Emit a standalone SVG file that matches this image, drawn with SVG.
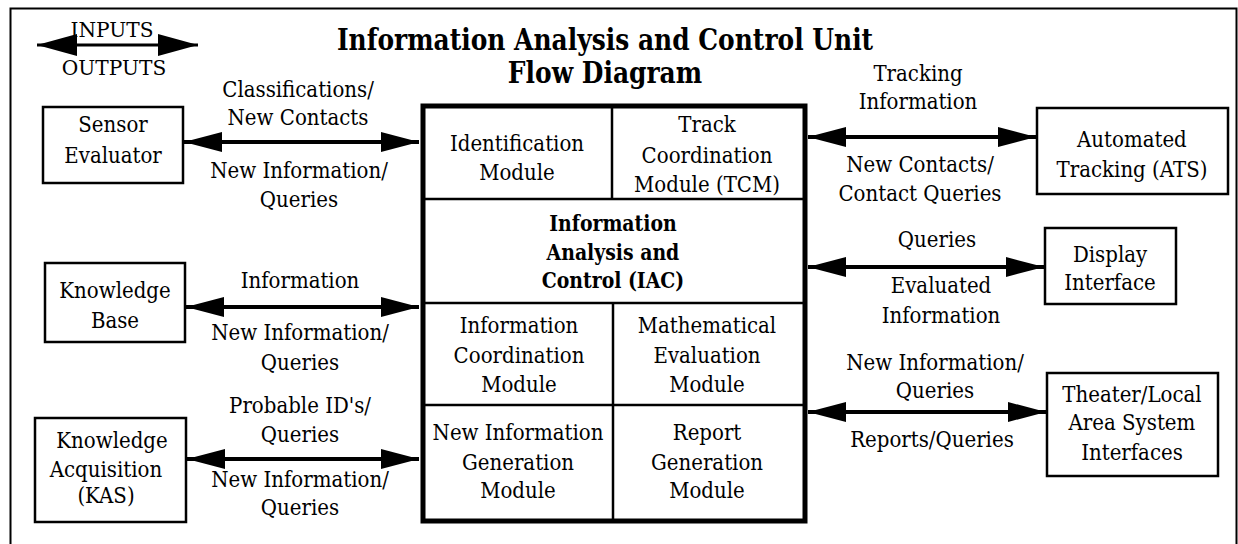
<svg xmlns="http://www.w3.org/2000/svg" width="1238" height="544" viewBox="0 0 1238 544">
<style>
text{font-family:"DejaVu Serif","Liberation Serif",serif;fill:#000;text-anchor:middle;transform-box:fill-box;transform-origin:center;transform:scaleX(0.86)}
.b{font-size:23px}
.bb{font-size:23px;font-weight:bold;transform:scaleX(0.82)}
.t{font-size:29px;font-weight:bold;transform:scaleX(0.86)}
.lg{font-size:21px;transform:scaleX(0.96)}
.box{fill:#fff;stroke:#000;stroke-width:2.5}
.div{stroke:#000;stroke-width:2.5;fill:none}
.arr{stroke:#000;stroke-width:4;fill:none;marker-start:url(#ah);marker-end:url(#ah)}
</style>
<defs>
<marker id="ah" viewBox="0 0 38 20" refX="38" refY="10" markerWidth="38" markerHeight="20" markerUnits="userSpaceOnUse" orient="auto-start-reverse">
<path d="M0,0 L38,10 L0,20 Z" fill="#000"/>
</marker>
<marker id="ahl" viewBox="0 0 40 22" refX="40" refY="11" markerWidth="40" markerHeight="22" markerUnits="userSpaceOnUse" orient="auto-start-reverse">
<path d="M0,0 L40,11 L0,22 Z" fill="#000"/>
</marker>
</defs>
<rect width="1238" height="544" fill="#fff"/>
<path d="M10.5,544 V8.5 H1236.5 V544" fill="none" stroke="#000" stroke-width="2"/>

<g id="legend">
<line x1="37" y1="45" x2="198" y2="45" stroke="#000" stroke-width="3" marker-start="url(#ahl)" marker-end="url(#ahl)"/>
<text class="lg" x="112" y="37">INPUTS</text>
<text class="lg" x="114" y="75">OUTPUTS</text>
</g>

<g id="title">
<text class="t" x="605" y="50">Information Analysis and Control Unit</text>
<text class="t" x="605" y="83">Flow Diagram</text>
</g>

<g id="connectors">
<line class="arr" x1="184" y1="142" x2="419" y2="142"/>
<line class="arr" x1="186" y1="307" x2="419" y2="307"/>
<line class="arr" x1="187" y1="459" x2="419" y2="459"/>
<line class="arr" x1="808" y1="137" x2="1036" y2="137"/>
<line class="arr" x1="808" y1="267" x2="1044" y2="267"/>
<line class="arr" x1="808" y1="412" x2="1046" y2="412"/>
<text class="b" x="298" y="97">Classifications/</text>
<text class="b" x="298" y="125">New Contacts</text>
<text class="b" x="299" y="178">New Information/</text>
<text class="b" x="299" y="207">Queries</text>
<text class="b" x="300" y="288">Information</text>
<text class="b" x="300" y="340">New Information/</text>
<text class="b" x="300" y="370">Queries</text>
<text class="b" x="300" y="413">Probable ID's/</text>
<text class="b" x="300" y="442">Queries</text>
<text class="b" x="300" y="487">New Information/</text>
<text class="b" x="300" y="515">Queries</text>
<text class="b" x="918" y="81">Tracking</text>
<text class="b" x="918" y="109">Information</text>
<text class="b" x="920" y="172">New Contacts/</text>
<text class="b" x="920" y="201">Contact Queries</text>
<text class="b" x="937" y="247">Queries</text>
<text class="b" x="941" y="293">Evaluated</text>
<text class="b" x="941" y="323">Information</text>
<text class="b" x="935" y="370">New Information/</text>
<text class="b" x="935" y="398">Queries</text>
<text class="b" x="932" y="447">Reports/Queries</text>
</g>

<g id="sensor-evaluator">
<rect class="box" x="43" y="107" width="140" height="76"/>
<text class="b" x="113" y="132">Sensor</text>
<text class="b" x="113" y="163">Evaluator</text>
</g>

<g id="knowledge-base">
<rect class="box" x="45" y="263" width="140" height="79"/>
<text class="b" x="115" y="298">Knowledge</text>
<text class="b" x="115" y="328">Base</text>
</g>

<g id="knowledge-acquisition">
<rect class="box" x="35" y="418" width="151" height="104"/>
<text class="b" x="112" y="448">Knowledge</text>
<text class="b" x="106" y="477">Acquisition</text>
<text class="b" x="106" y="503">(KAS)</text>
</g>

<g id="automated-tracking">
<rect class="box" x="1037" y="108" width="191" height="86"/>
<text class="b" x="1132" y="147">Automated</text>
<text class="b" x="1132" y="177">Tracking (ATS)</text>
</g>

<g id="display-interface">
<rect class="box" x="1045" y="228" width="131" height="76"/>
<text class="b" x="1110" y="262">Display</text>
<text class="b" x="1110" y="290">Interface</text>
</g>

<g id="theater-local">
<rect class="box" x="1047" y="373" width="171" height="103"/>
<text class="b" x="1132" y="402">Theater/Local</text>
<text class="b" x="1132" y="430">Area System</text>
<text class="b" x="1132" y="460">Interfaces</text>
</g>

<g id="iac-unit">
<rect x="423" y="106" width="382" height="415" fill="#fff" stroke="#000" stroke-width="5"/>
<line class="div" x1="423" y1="199" x2="805" y2="199"/>
<line class="div" x1="423" y1="303" x2="805" y2="303"/>
<line class="div" x1="423" y1="405" x2="805" y2="405"/>
<line class="div" x1="612" y1="106" x2="612" y2="199"/>
<line class="div" x1="613" y1="303" x2="613" y2="521"/>
</g>

<g id="identification-module">
<text class="b" x="517" y="151">Identification</text>
<text class="b" x="517" y="180">Module</text>
</g>

<g id="track-coordination-module">
<text class="b" x="707" y="132">Track</text>
<text class="b" x="707" y="163">Coordination</text>
<text class="b" x="707" y="192">Module (TCM)</text>
</g>

<g id="iac-core">
<text class="bb" x="613" y="231">Information</text>
<text class="bb" x="613" y="260">Analysis and</text>
<text class="bb" x="613" y="288">Control (IAC)</text>
</g>

<g id="information-coordination-module">
<text class="b" x="519" y="333">Information</text>
<text class="b" x="519" y="363">Coordination</text>
<text class="b" x="519" y="392">Module</text>
</g>

<g id="mathematical-evaluation-module">
<text class="b" x="707" y="333">Mathematical</text>
<text class="b" x="707" y="363">Evaluation</text>
<text class="b" x="707" y="392">Module</text>
</g>

<g id="new-information-generation-module">
<text class="b" x="518" y="440">New Information</text>
<text class="b" x="518" y="470">Generation</text>
<text class="b" x="518" y="498">Module</text>
</g>

<g id="report-generation-module">
<text class="b" x="707" y="440">Report</text>
<text class="b" x="707" y="470">Generation</text>
<text class="b" x="707" y="498">Module</text>
</g>
</svg>
